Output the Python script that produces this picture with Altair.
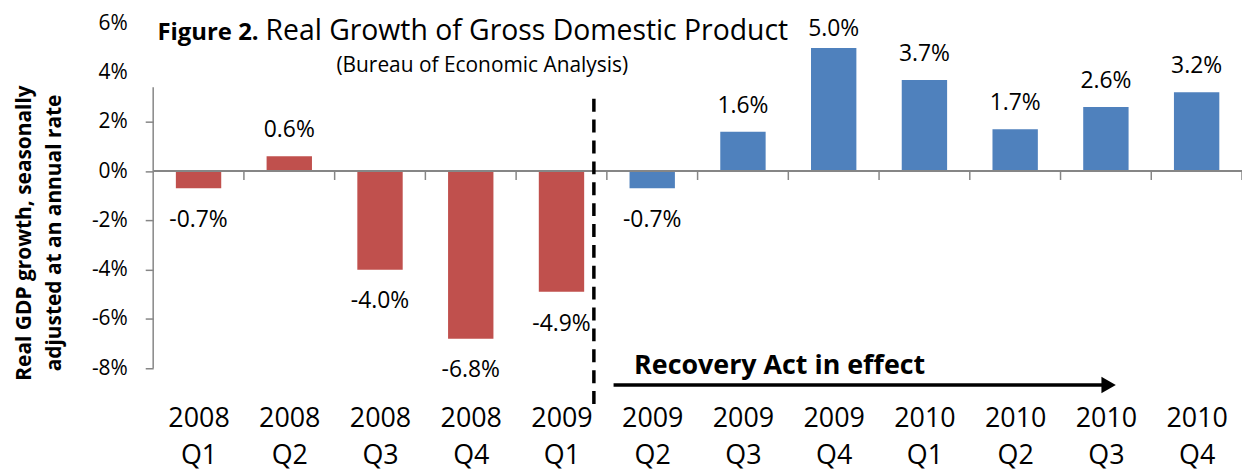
import altair as alt
import pandas as pd

# ---- data ----
years = ["2008", "2008", "2008", "2008", "2009", "2009", "2009", "2009", "2010", "2010", "2010", "2010"]
quarters = ["Q1", "Q2", "Q3", "Q4", "Q1", "Q2", "Q3", "Q4", "Q1", "Q2", "Q3", "Q4"]
growth = [-0.7, 0.6, -4.0, -6.8, -4.9, -0.7, 1.6, 5.0, 3.7, 1.7, 2.6, 3.2]
period = ["before"] * 5 + ["after"] * 7
y_ticks = [-8, -6, -4, -2, 0, 2, 4, 6]
y_title = ["Real GDP growth, seasonally", "adjusted at an annual rate"]

FONT = "Open Sans"
RED = "#C0504D"
BLUE = "#4F81BD"
GRAY = "#868686"

df = pd.DataFrame({
    "idx": list(range(len(growth))),
    "year": years,
    "quarter": quarters,
    "growth": growth,
    "period": period,
    "label": [f"{v:.1f}%" for v in growth],
})

xs = alt.Scale(domain=[-0.5, 11.5], nice=False, zero=False)
ys = alt.Scale(domain=[-8, 6], nice=False, zero=False)

label_expr = "[" + ",".join(f"['{y}','{q}']" for y, q in zip(years, quarters)) + "][datum.value]"

x_axis = alt.Axis(
    values=list(range(len(growth))), labelExpr=label_expr, ticks=False, tickSize=0,
    domain=False, grid=False, labelPadding=59, labelFontSize=27, labelFont=FONT,
    labelColor="black", labelLineHeight=37, labelBaseline="alphabetic",
    labelFlush=False, labelOverlap=False, title=None,
)
y_axis = alt.Axis(
    values=y_ticks, labelExpr="toString(datum.value) + '%'", domain=False, grid=False,
    ticks=True, tickSize=8, tickWidth=1.5,
    tickColor={"condition": {"test": "datum.value > 3.5", "value": "#ffffff"}, "value": GRAY},
    labelFontSize=21, labelFont=FONT, labelColor="black", labelPadding=18,
    title=None,
)


def X(field):
    return alt.X(field, scale=xs, axis=x_axis)


def Y(field):
    return alt.Y(field, scale=ys, axis=y_axis)


base = alt.Chart(df)

bars = base.transform_calculate(
    x0="datum.idx - 0.25", x1="datum.idx + 0.25", zero="0"
).mark_bar().encode(
    x=X("x0:Q"),
    x2="x1:Q",
    y=Y("growth:Q"),
    y2="zero:Q",
    color=alt.Color("period:N", scale=alt.Scale(domain=["before", "after"], range=[RED, BLUE]), legend=None),
)

pos_labels = base.transform_filter("datum.growth >= 0").transform_calculate(
    ly="min(datum.growth, 4.7)"
).mark_text(font=FONT, fontSize=23, color="black", baseline="alphabetic", dy=-19).encode(
    x=X("idx:Q"), y=Y("ly:Q"), text="label:N",
)
neg_labels = base.transform_filter("datum.growth < 0").mark_text(
    font=FONT, fontSize=23, color="black", baseline="alphabetic", dy=39
).encode(
    x=X("idx:Q"), y=Y("growth:Q"), text="label:N",
)

# axis lines
y_domain = alt.Chart(pd.DataFrame({"x": [-0.5], "y": [-8], "y2": [3.4]})).mark_rule(
    color=GRAY, strokeWidth=1.5
).encode(x=X("x:Q"), y=Y("y:Q"), y2="y2:Q")

zero_line = alt.Chart(pd.DataFrame({"x": [-0.5], "x2": [11.5], "y": [0]})).mark_rule(
    color=GRAY, strokeWidth=2
).encode(x=X("x:Q"), x2="x2:Q", y=Y("y:Q"))

cat_ticks = base.transform_calculate(
    tx="datum.idx + 0.5", t0="0", t1="-0.36"
).mark_rule(color=GRAY, strokeWidth=1.5).encode(
    x=X("tx:Q"), y=Y("t0:Q"), y2="t1:Q"
)

# y-axis title (two rotated lines)
ytitle = alt.Chart(pd.DataFrame({"x": [-1.848, -1.519], "y": [-2.51, -2.51], "t": y_title})).mark_text(
    font=FONT, fontSize=21, fontWeight="bold", color="black", angle=270,
    align="center", baseline="alphabetic"
).encode(x=X("x:Q"), y=Y("y:Q"), text="t:N")

# annotations
dashed = alt.Chart(pd.DataFrame({"x": [4.357], "y": [-9.45], "y2": [3.05]})).mark_rule(
    color="black", strokeWidth=3.5, strokeDash=[13, 8]
).encode(x=X("x:Q"), y=Y("y:Q"), y2="y2:Q")

arrow_line = alt.Chart(pd.DataFrame({"x": [4.574], "x2": [9.98], "y": [-8.68]})).mark_rule(
    color="black", strokeWidth=3.5
).encode(x=X("x:Q"), x2="x2:Q", y=Y("y:Q"))

arrow_head = alt.Chart(pd.DataFrame({"x": [10.03], "y": [-8.68]})).mark_point(
    shape="triangle-right", size=280, filled=True, color="black", opacity=1
).encode(x=X("x:Q"), y=Y("y:Q"))

recovery_text = alt.Chart(pd.DataFrame({"x": [4.80], "y": [-8.24], "t": ["Recovery Act in effect"]})).mark_text(
    font=FONT, fontSize=27, fontWeight="bold", color="black", align="left", baseline="alphabetic"
).encode(x=X("x:Q"), y=Y("y:Q"), text="t:N")

title_bold = alt.Chart(pd.DataFrame({"x": [0.662], "y": [5.33], "t": ["Figure 2."]})).mark_text(
    font=FONT, fontSize=24, fontWeight="bold", color="black", align="right", baseline="alphabetic"
).encode(x=X("x:Q"), y=Y("y:Q"), text="t:N")

title_reg = alt.Chart(pd.DataFrame({"x": [0.738], "y": [5.33], "t": ["Real Growth of Gross Domestic Product"]})).mark_text(
    font=FONT, fontSize=28.5, color="black", align="left", baseline="alphabetic"
).encode(x=X("x:Q"), y=Y("y:Q"), text="t:N")

subtitle = alt.Chart(pd.DataFrame({"x": [3.127], "y": [4.02], "t": ["(Bureau of Economic Analysis)"]})).mark_text(
    font=FONT, fontSize=21, color="black", align="center", baseline="alphabetic"
).encode(x=X("x:Q"), y=Y("y:Q"), text="t:N")

chart = alt.layer(
    bars, zero_line, cat_ticks, y_domain, pos_labels, neg_labels, ytitle,
    dashed, arrow_line, arrow_head, recovery_text, title_bold, title_reg, subtitle,
).properties(
    width=1095, height=347,
    autosize=alt.AutoSizeParams(type="none"),
    padding={"left": 146, "top": 14, "right": 0, "bottom": 103},
    background="white",
).configure_view(stroke=None)

chart.save("out.html", embed_options={"renderer": "svg", "actions": False})
